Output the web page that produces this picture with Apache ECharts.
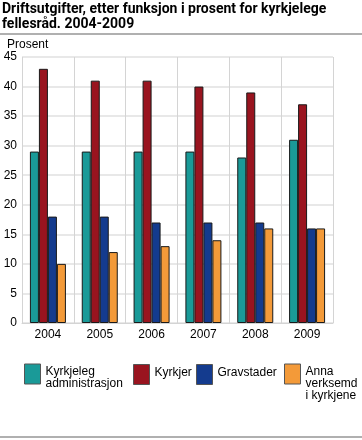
<!DOCTYPE html>
<html>
<head>
<meta charset="utf-8">
<script src="https://cdn.jsdelivr.net/npm/echarts@6/dist/echarts.min.js"></script>
<style>html,body{margin:0;padding:0;background:#fff;}#c{width:362px;height:440px;}</style>
</head>
<body>
<div id="c"></div>
<script>
var categories = ['2004', '2005', '2006', '2007', '2008', '2009'];
var seriesNames = ['Kyrkjeleg\nadministrasjon', 'Kyrkjer', 'Gravstader', 'Anna\nverksemd\ni kyrkjene'];
var administrasjon = [29, 29, 29, 29, 28, 31];
var kyrkjer = [43, 41, 41, 40, 39, 37];
var gravstader = [18, 18, 17, 17, 17, 16];
var anna = [10, 12, 13, 14, 16, 16];
var yTicks = [0, 5, 10, 15, 20, 25, 30, 35, 40, 45];
var colors = ['#1a9a98', '#99141f', '#143b8e', '#f39a39'];

var chart = echarts.init(document.getElementById('c'), null, {renderer: 'canvas'});
var font = 'Liberation Sans, Arial, sans-serif';
function bar(name, data, color) {
  return {
    name: name, type: 'bar', data: data, barWidth: 9, barGap: '0%',
    itemStyle: {color: color, borderColor: '#1a1a1a', borderWidth: 1},
    emphasis: {disabled: true}
  };
}
var legendLeft = [24, 133, 196, 284];
var legendTop = [358, 364, 364, 346];
// spacer line heights above (s) / below (e) the text so it sits top-aligned with the icon
var legendFmt = [
  function (n) { return '{s| }\n' + n; },
  function (n) { return n + '\n{e| }'; },
  function (n) { return n + '\n{e| }'; },
  function (n) { return '{t| }\n' + n; }
];
var legends = seriesNames.map(function (n, i) {
  return {
    data: [n], left: legendLeft[i], top: legendTop[i], orient: 'horizontal',
    icon: 'rect', itemWidth: 16, itemHeight: 20, selectedMode: false, padding: 0,
    itemStyle: {borderColor: '#555', borderWidth: 1},
    formatter: legendFmt[i],
    textStyle: {fontFamily: font, fontSize: 12, color: '#000', lineHeight: 12,
      rich: {
        s: {fontSize: 4, lineHeight: 8},
        e: {fontSize: 2, lineHeight: 4},
        t: {fontSize: 10, lineHeight: 20}
      }}
  };
});
chart.setOption({
  animation: false,
  color: colors,
  title: [
    {text: 'Driftsutgifter, etter funksjon i prosent for kyrkjelege\nfellesråd. 2004-2009', left: 2, top: 2, padding: 0,
     textStyle: {fontFamily: 'Roboto, sans-serif', fontSize: 14, fontWeight: 'bold', color: '#000', lineHeight: 15}},
    {text: 'Prosent', left: 7, top: 39, padding: 0,
     textStyle: {fontFamily: font, fontSize: 12, fontWeight: 'normal', color: '#000'}}
  ],
  graphic: [
    {type: 'line', shape: {x1: 0, y1: 34, x2: 362, y2: 34}, style: {stroke: '#b0b0b0', lineWidth: 2}},
    {type: 'line', shape: {x1: 0, y1: 437, x2: 362, y2: 437}, style: {stroke: '#b0b0b0', lineWidth: 2}}
  ],
  legend: legends,
  grid: {left: 22, right: 29, top: 57, bottom: 117, containLabel: false},
  xAxis: {
    type: 'category', data: categories,
    axisTick: {show: false},
    axisLine: {show: true, lineStyle: {color: '#d4d4d4'}},
    axisLabel: {fontFamily: font, fontSize: 12, color: '#000', margin: 6},
    splitLine: {show: true, lineStyle: {color: '#d4d4d4'}}
  },
  yAxis: {
    type: 'value', min: 0, max: 45, interval: 5,
    axisLine: {show: false}, axisTick: {show: false},
    axisLabel: {fontFamily: font, fontSize: 12, color: '#000', margin: 5,
      formatter: function (v) { return yTicks.indexOf(v) >= 0 ? String(v) : ''; }},
    splitLine: {show: true, lineStyle: {color: '#e0e0e0', width: 1.5}}
  },
  series: [
    bar(seriesNames[0], administrasjon, colors[0]),
    bar(seriesNames[1], kyrkjer, colors[1]),
    bar(seriesNames[2], gravstader, colors[2]),
    bar(seriesNames[3], anna, colors[3])
  ]
});
</script>
</body>
</html>
